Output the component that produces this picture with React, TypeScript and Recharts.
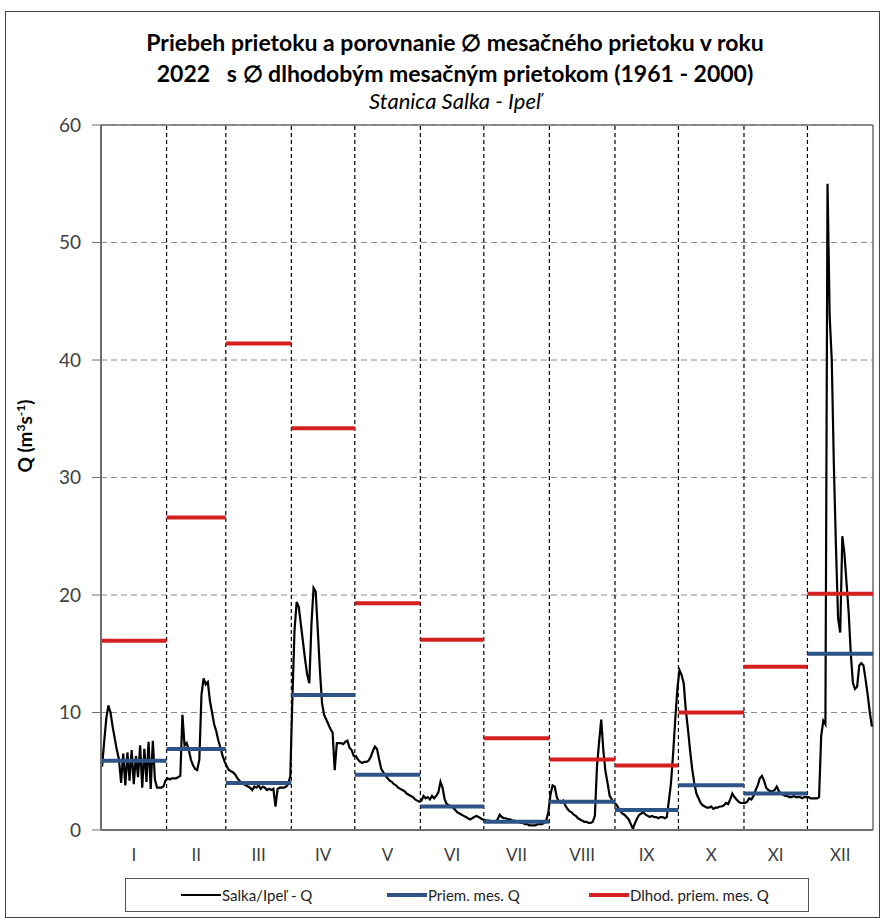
import React from "react";
import { ComposedChart, Line, XAxis, YAxis, CartesianGrid, ReferenceLine } from "recharts";

const FONT = "Lato, 'Open Sans', sans-serif";

const monthLabels = ["I", "II", "III", "IV", "V", "VI", "VII", "VIII", "IX", "X", "XI", "XII"];
const monthDays = [31, 28, 31, 30, 31, 30, 31, 31, 30, 31, 30, 31];
const yTicks = [0, 10, 20, 30, 40, 50, 60];

// daily discharge Q (m3/s), 2022
const qJan = [5.4, 7.5, 9.5, 10.6, 10.0, 8.8, 7.8, 6.8, 6.0, 4.0, 6.5, 3.8, 6.6, 4.2, 6.8, 3.9, 6.3, 4.5, 7.2, 3.6, 6.9, 4.1, 7.5, 3.5, 7.6, 4.3, 3.6, 3.6, 3.6, 3.7, 4.2];
const qFeb = [4.4, 4.3, 4.4, 4.4, 4.4, 4.5, 4.6, 9.8, 7.2, 7.4, 6.8, 6.0, 5.5, 5.2, 5.1, 6.0, 11.5, 12.9, 12.4, 12.6, 11.0, 10.0, 9.0, 8.4, 7.6, 7.0, 6.3, 5.8];
const qMar = [5.4, 5.1, 5.0, 4.9, 4.7, 4.4, 4.2, 4.0, 3.9, 3.8, 3.7, 3.6, 3.4, 3.7, 3.6, 3.8, 3.5, 3.7, 3.6, 3.4, 3.5, 3.4, 3.5, 2.0, 3.5, 3.6, 3.6, 3.6, 3.7, 3.9, 4.6];
const qApr = [11.3, 17.0, 19.4, 19.0, 17.5, 16.0, 14.5, 13.2, 12.5, 17.5, 20.6, 20.3, 17.0, 13.6, 10.8, 9.8, 9.4, 9.0, 8.6, 8.3, 5.1, 7.4, 7.4, 7.4, 7.3, 7.5, 7.6, 7.0, 6.8, 6.3];
const qMay = [6.3, 6.0, 5.8, 5.7, 5.8, 5.8, 5.9, 6.2, 6.7, 7.1, 6.9, 6.0, 5.2, 4.9, 4.6, 4.4, 4.2, 4.1, 3.9, 3.8, 3.6, 3.5, 3.4, 3.3, 3.1, 3.0, 2.9, 2.8, 2.6, 2.5, 2.4];
const qJun = [2.5, 2.9, 2.7, 2.8, 2.6, 2.9, 2.7, 2.9, 3.2, 4.1, 3.6, 2.6, 2.2, 2.1, 2.0, 1.9, 1.7, 1.5, 1.4, 1.3, 1.2, 1.1, 1.0, 0.9, 1.0, 1.1, 1.2, 1.1, 1.0, 0.9];
const qJul = [0.85, 0.8, 0.8, 0.7, 0.7, 0.7, 0.9, 1.3, 1.1, 1.0, 1.0, 0.9, 0.9, 0.8, 0.8, 0.7, 0.7, 0.6, 0.6, 0.5, 0.5, 0.4, 0.4, 0.4, 0.4, 0.5, 0.5, 0.5, 0.6, 0.8, 1.5];
const qAug = [3.0, 3.8, 3.7, 2.8, 2.4, 2.3, 2.5, 2.1, 1.8, 1.6, 1.5, 1.3, 1.2, 1.0, 0.9, 0.8, 0.7, 0.7, 0.6, 0.6, 0.7, 1.2, 5.4, 7.5, 9.4, 6.8, 5.0, 4.0, 2.9, 2.6, 2.3];
const qSep = [2.2, 1.9, 1.6, 1.4, 1.3, 1.1, 0.9, 0.5, 0.1, 0.6, 1.0, 1.3, 1.4, 1.5, 1.3, 1.2, 1.1, 1.2, 1.1, 1.1, 1.0, 1.1, 1.1, 1.0, 1.1, 2.5, 4.0, 6.5, 9.4, 12.0];
const qOct = [13.6, 13.2, 12.5, 10.2, 8.6, 6.8, 5.2, 4.0, 3.1, 2.7, 2.3, 2.1, 2.0, 1.9, 1.9, 2.0, 1.8, 1.9, 1.9, 2.0, 2.0, 2.1, 2.3, 2.2, 2.6, 3.1, 2.8, 2.6, 2.4, 2.3, 2.3];
const qNov = [2.3, 2.4, 2.7, 2.6, 2.9, 3.4, 3.8, 4.4, 4.6, 4.2, 3.6, 3.4, 3.3, 3.3, 3.4, 3.7, 3.3, 3.1, 3.0, 2.9, 2.9, 2.8, 2.8, 2.9, 2.8, 2.8, 2.8, 2.7, 2.8, 2.8];
const qDec = [2.8, 2.7, 2.7, 2.7, 2.7, 2.8, 8.0, 9.3, 9.0, 55.0, 43.8, 40.0, 31.0, 24.0, 18.0, 16.8, 25.0, 23.5, 21.0, 18.5, 15.0, 12.5, 12.0, 12.2, 14.0, 14.2, 14.0, 12.8, 11.5, 10.0, 8.8];

// monthly mean Q in 2022 and long-term monthly mean Q (1961 - 2000)
const monthlyMeanQ = [5.9, 6.9, 4.0, 11.5, 4.7, 2.0, 0.7, 2.4, 1.7, 3.8, 3.1, 15.0];
const longTermMeanQ = [16.1, 26.6, 41.4, 34.2, 19.3, 16.2, 7.8, 6.0, 5.5, 10.0, 13.9, 20.1];

const dailyQ = [qJan, qFeb, qMar, qApr, qMay, qJun, qJul, qAug, qSep, qOct, qNov, qDec].flat();
const monthStarts = monthDays.map((_, i) => monthDays.slice(0, i).reduce((a, b) => a + b, 0));
const monthEnds = monthStarts.map((s, i) => s + monthDays[i]);
const monthMids = monthStarts.map((s, i) => s + monthDays[i] / 2);
const dividers = monthEnds.slice(0, 11);

const dailyData = dailyQ.map((q, i) => ({ day: i + 0.5, q }));
const toSegments = (vals: number[]) =>
  vals.flatMap((v, i) => [
    { day: monthStarts[i], v },
    { day: monthEnds[i], v },
    { day: monthEnds[i], v: null },
  ]);
const meanData = toSegments(monthlyMeanQ);
const longData = toSegments(longTermMeanQ);

const BLUE = "#2E5487";
const RED = "#D42020";

const YLabel = () => (
  <text
    x={32}
    y={436}
    transform="rotate(-90 32 436)"
    textAnchor="middle"
    fontFamily={FONT}
    fontWeight="bold"
    fontSize={19}
    fill="#000"
  >
    Q (m
    <tspan dy={-7} fontSize={12}>3</tspan>
    <tspan dy={7}>s</tspan>
    <tspan dy={-7} fontSize={12}>-1</tspan>
    <tspan dy={7}>)</tspan>
  </text>
);

const legendItems = [
  { label: "Salka/Ipeľ - Q", color: "#000", width: 2, lineLeft: 55 },
  { label: "Priem. mes. Q", color: BLUE, width: 4, lineLeft: 261 },
  { label: "Dlhod. priem. mes. Q", color: RED, width: 4, lineLeft: 463 },
];

const titleStyle: React.CSSProperties = {
  position: "absolute",
  left: 0,
  width: 910,
  textAlign: "center",
  fontWeight: "bold",
  fontSize: 23,
  lineHeight: "28px",
  color: "#000",
  whiteSpace: "pre",
};

export default function App() {
  return (
    <div style={{ position: "absolute", left: 0, top: 0, width: 883, height: 919, background: "#fff", fontFamily: FONT }}>
      <div style={{ position: "absolute", left: 5, top: 11, width: 873, height: 905, border: "1px solid #444" }} />
      <div style={{ ...titleStyle, top: 28 }}>{"Priebeh prietoku a porovnanie ∅ mesačného prietoku v roku"}</div>
      <div style={{ ...titleStyle, top: 59 }}>{"2022   s ∅ dlhodobým mesačným prietokom (1961 - 2000)"}</div>
      <div style={{ position: "absolute", left: 0, width: 910, top: 88, textAlign: "center", fontStyle: "italic", fontSize: 22, lineHeight: "26px", color: "#000" }}>
        Stanica Salka - Ipeľ
      </div>
      <ComposedChart width={883} height={919} margin={{ top: 125, right: 10, left: 0, bottom: 59 }}>
        <CartesianGrid vertical={false} stroke="#8a8a8a" strokeDasharray="6 4" />
        <XAxis
          type="number"
          dataKey="day"
          domain={[0, 365]}
          ticks={monthMids}
          interval={0}
          tickFormatter={(v: number) => monthLabels[monthMids.indexOf(v)]}
          tickLine={false}
          tickSize={8}
          tickMargin={11}
          axisLine={{ stroke: "#6e6e6e", strokeWidth: 2 }}
          tick={{ fill: "#404040", fontSize: 17, fontFamily: FONT }}
          height={30}
          allowDataOverflow
        />
        <YAxis
          type="number"
          domain={[0, 60]}
          ticks={yTicks}
          interval={0}
          width={101}
          tickSize={9}
          tickMargin={11}
          axisLine={{ stroke: "#6e6e6e", strokeWidth: 2 }}
          tickLine={{ stroke: "#6e6e6e" }}
          tick={{ fill: "#404040", fontSize: 19, fontFamily: FONT }}
          label={{ content: () => <YLabel /> }}
          allowDataOverflow
        />
        <ReferenceLine y={60} stroke="#6e6e6e" strokeWidth={1.5} />
        <ReferenceLine x={365} stroke="#6e6e6e" strokeWidth={1.5} />
        {dividers.map((d) => (
          <ReferenceLine key={d} x={d} stroke="#000" strokeWidth={1.2} strokeDasharray="4 3" />
        ))}
        <Line data={dailyData} dataKey="q" type="linear" stroke="#000" strokeWidth={2.2} dot={false} activeDot={false} isAnimationActive={false} />
        <Line data={meanData} dataKey="v" type="linear" stroke={BLUE} strokeWidth={4} dot={false} activeDot={false} connectNulls={false} isAnimationActive={false} />
        <Line data={longData} dataKey="v" type="linear" stroke={RED} strokeWidth={4} dot={false} activeDot={false} connectNulls={false} isAnimationActive={false} />
      </ComposedChart>
      <div style={{ position: "absolute", left: 125, top: 878, width: 684, height: 34, border: "1px solid #555", boxSizing: "border-box" }}>
        {legendItems.map((it) => (
          <div key={it.label} style={{ position: "absolute", left: it.lineLeft, top: 0, height: 32, display: "flex", alignItems: "center" }}>
            <div style={{ width: 40, height: it.width, background: it.color }} />
            <span style={{ fontSize: 15, color: "#222", marginLeft: 1 }}>{it.label}</span>
          </div>
        ))}
      </div>
    </div>
  );
}
